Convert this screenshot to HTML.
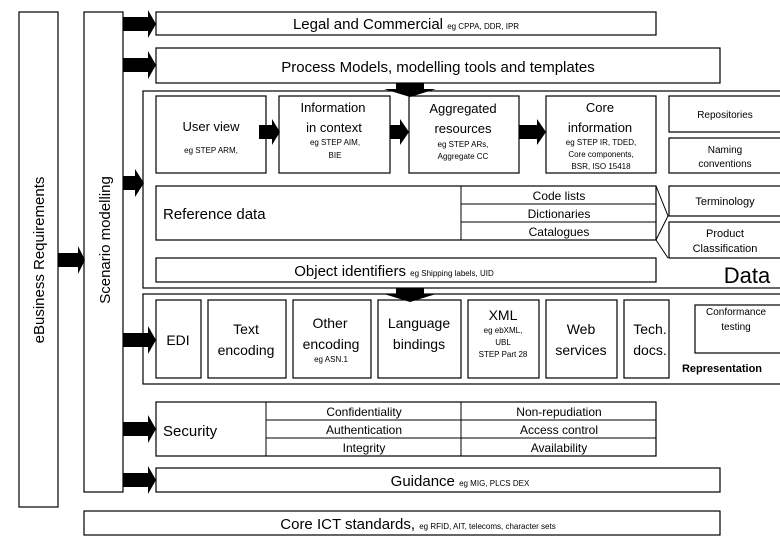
<!DOCTYPE html>
<html><head><meta charset="utf-8"><style>body{margin:0;background:#fff}svg{display:block}text{font-family:"Liberation Sans",sans-serif;fill:#000}</style></head><body>
<svg width="780" height="540" viewBox="0 0 780 540" xmlns="http://www.w3.org/2000/svg">
<defs>
<g id="ar"><polygon points="0,-7 25,-7 25,-14 33,0 25,14 25,7 0,7" fill="#000"/></g>
<g id="ad"><polygon points="-14,0 14,0 14,6 26,6 0,14 -26,6 -14,6" fill="#000"/></g>
</defs>
<g fill="#fff" stroke="#000" stroke-width="1.2">
<rect x="19" y="12" width="39" height="495"/>
<rect x="84" y="12" width="39" height="480"/>
<rect x="156" y="12" width="500" height="23"/>
<rect x="156" y="48" width="564" height="35"/>
<rect x="143" y="91" width="640" height="197"/>
<rect x="156" y="96" width="110" height="77"/>
<rect x="279" y="96" width="111" height="77"/>
<rect x="409" y="96" width="110" height="77"/>
<rect x="546" y="96" width="110" height="77"/>
<rect x="669" y="96" width="115" height="36"/>
<rect x="669" y="138" width="115" height="35"/>
<rect x="156" y="186" width="500" height="54"/>
<rect x="669" y="186" width="115" height="30"/>
<rect x="669" y="222" width="115" height="36"/>
<rect x="156" y="258" width="500" height="24"/>
<rect x="143" y="294" width="640" height="90"/>
<rect x="156" y="300" width="45" height="78"/>
<rect x="208" y="300" width="78" height="78"/>
<rect x="293" y="300" width="78" height="78"/>
<rect x="378" y="300" width="83" height="78"/>
<rect x="468" y="300" width="71" height="78"/>
<rect x="546" y="300" width="71" height="78"/>
<rect x="624" y="300" width="45" height="78"/>
<rect x="695" y="305" width="90" height="48"/>
<rect x="156" y="402" width="500" height="54"/>
<rect x="156" y="468" width="564" height="24"/>
<rect x="84" y="511" width="636" height="24"/>
</g>
<g stroke="#000" stroke-width="1" fill="none">
<line x1="461" y1="186" x2="461" y2="240"/><line x1="461" y1="204" x2="656" y2="204"/><line x1="461" y1="222" x2="656" y2="222"/>
<polyline points="656,186 668,216 656,240"/><line x1="656" y1="240" x2="668" y2="258"/>
<line x1="266" y1="402" x2="266" y2="456"/><line x1="461" y1="402" x2="461" y2="456"/>
<line x1="266" y1="420" x2="656" y2="420"/><line x1="266" y1="438" x2="656" y2="438"/>
</g>
<use href="#ar" x="123" y="24"/><use href="#ar" x="123" y="65"/>
<polygon points="123,176 135,176 135,169 144,183 135,197 135,190 123,190" fill="#000"/>
<use href="#ar" x="123" y="340"/><use href="#ar" x="123" y="429"/><use href="#ar" x="123" y="480"/>
<polygon points="58,253 78,253 78,246 85,260 78,274 78,267 58,267" fill="#000"/>
<polygon points="259,125 272,125 272,119 280,132 272,145 272,139 259,139" fill="#000"/>
<polygon points="390,125 400,125 400,119 409,132 400,145 400,139 390,139" fill="#000"/>
<polygon points="519,125 537,125 537,119 546,132 537,145 537,139 519,139" fill="#000"/>
<use href="#ad" x="410" y="83"/><use href="#ad" x="410" y="288"/>
<text transform="translate(44,260) rotate(-90)" text-anchor="middle" font-size="15">eBusiness Requirements</text>
<text transform="translate(110,240) rotate(-90)" text-anchor="middle" font-size="15">Scenario modelling</text>
<text x="406" y="29" text-anchor="middle" font-size="15">Legal and Commercial <tspan font-size="8">eg CPPA, DDR, IPR</tspan></text>
<text x="438" y="72" text-anchor="middle" font-size="15">Process Models, modelling tools and templates</text>
<text x="211" y="131" text-anchor="middle" font-size="13">User view</text>
<text x="211" y="153" text-anchor="middle" font-size="8">eg STEP ARM,</text>
<text x="333" y="112" text-anchor="middle" font-size="13">Information</text>
<text x="334" y="132" text-anchor="middle" font-size="13">in context</text>
<text x="335" y="145" text-anchor="middle" font-size="8">eg STEP AIM,</text>
<text x="335" y="158" text-anchor="middle" font-size="8">BIE</text>
<text x="463" y="113" text-anchor="middle" font-size="13">Aggregated</text>
<text x="463" y="133" text-anchor="middle" font-size="13">resources</text>
<text x="463" y="147" text-anchor="middle" font-size="8">eg STEP ARs,</text>
<text x="463" y="159" text-anchor="middle" font-size="8">Aggregate CC</text>
<text x="600" y="112" text-anchor="middle" font-size="13">Core</text>
<text x="600" y="132" text-anchor="middle" font-size="13">information</text>
<text x="601" y="145" text-anchor="middle" font-size="8">eg STEP IR, TDED,</text>
<text x="601" y="157" text-anchor="middle" font-size="8">Core components,</text>
<text x="601" y="169" text-anchor="middle" font-size="8">BSR, ISO 15418</text>
<text x="725" y="118" text-anchor="middle" font-size="10">Repositories</text>
<text x="725" y="153" text-anchor="middle" font-size="10">Naming</text>
<text x="725" y="167" text-anchor="middle" font-size="10">conventions</text>
<text x="163" y="219" font-size="15">Reference data</text>
<text x="559" y="200" text-anchor="middle" font-size="12">Code lists</text>
<text x="559" y="218" text-anchor="middle" font-size="12">Dictionaries</text>
<text x="559" y="236" text-anchor="middle" font-size="12">Catalogues</text>
<text x="725" y="205" text-anchor="middle" font-size="11">Terminology</text>
<text x="725" y="237" text-anchor="middle" font-size="11">Product</text>
<text x="725" y="252" text-anchor="middle" font-size="11">Classification</text>
<text x="394" y="276" text-anchor="middle" font-size="15">Object identifiers <tspan font-size="8">eg Shipping labels, UID</tspan></text>
<text x="747" y="283" text-anchor="middle" font-size="22">Data</text>
<text x="178" y="345" text-anchor="middle" font-size="14">EDI</text>
<text x="246" y="334" text-anchor="middle" font-size="14">Text</text>
<text x="246" y="355" text-anchor="middle" font-size="14">encoding</text>
<text x="330" y="328" text-anchor="middle" font-size="14">Other</text>
<text x="331" y="349" text-anchor="middle" font-size="14">encoding</text>
<text x="331" y="362" text-anchor="middle" font-size="8">eg ASN.1</text>
<text x="419" y="328" text-anchor="middle" font-size="14">Language</text>
<text x="419" y="349" text-anchor="middle" font-size="14">bindings</text>
<text x="503" y="320" text-anchor="middle" font-size="14">XML</text>
<text x="503" y="333" text-anchor="middle" font-size="8">eg ebXML,</text>
<text x="503" y="345" text-anchor="middle" font-size="8">UBL</text>
<text x="503" y="357" text-anchor="middle" font-size="8">STEP Part 28</text>
<text x="581" y="334" text-anchor="middle" font-size="14">Web</text>
<text x="581" y="355" text-anchor="middle" font-size="14">services</text>
<text x="650" y="334" text-anchor="middle" font-size="14">Tech.</text>
<text x="650" y="355" text-anchor="middle" font-size="14">docs.</text>
<text x="736" y="315" text-anchor="middle" font-size="10">Conformance</text>
<text x="736" y="330" text-anchor="middle" font-size="10">testing</text>
<text x="722" y="372" text-anchor="middle" font-size="11" font-weight="bold">Representation</text>
<text x="163" y="436" font-size="15">Security</text>
<text x="364" y="416" text-anchor="middle" font-size="12">Confidentiality</text>
<text x="364" y="434" text-anchor="middle" font-size="12">Authentication</text>
<text x="364" y="452" text-anchor="middle" font-size="12">Integrity</text>
<text x="559" y="416" text-anchor="middle" font-size="12">Non-repudiation</text>
<text x="559" y="434" text-anchor="middle" font-size="12">Access control</text>
<text x="559" y="452" text-anchor="middle" font-size="12">Availability</text>
<text x="460" y="486" text-anchor="middle" font-size="15">Guidance <tspan font-size="8">eg MIG, PLCS DEX</tspan></text>
<text x="418" y="529" text-anchor="middle" font-size="15">Core ICT standards, <tspan font-size="8">eg RFID, AIT, telecoms, character sets</tspan></text>
</svg>
</body></html>
